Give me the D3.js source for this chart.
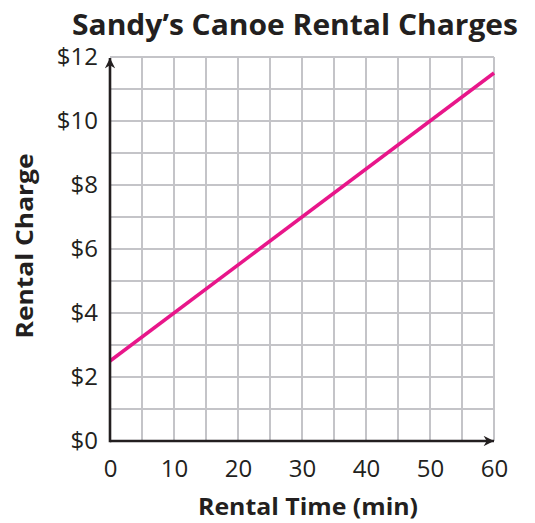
<!DOCTYPE html>
<html><head><meta charset="utf-8">
<script src="https://cdn.jsdelivr.net/npm/d3@7"></script>
<style>body{margin:0;background:#fff}</style>
</head><body>
<script>
const title = "Sandy’s Canoe Rental Charges";
const xTitle = "Rental Time (min)";
const yTitle = "Rental Charge";
const xTickValues = [0, 10, 20, 30, 40, 50, 60];
const yTickValues = [0, 2, 4, 6, 8, 10, 12];
const lineTimes = [0, 60];
const lineCharges = [2.5, 11.5];

const W = 535, H = 523;
const m = {left: 110, right: 41, top: 57, bottom: 82};
const svg = d3.select("body").append("svg").attr("width", W).attr("height", H);
const x = d3.scaleLinear().domain([0, 60]).range([m.left, W - m.right]);
const y = d3.scaleLinear().domain([0, 12]).range([H - m.bottom, m.top]);

const font = "'Open Sans', sans-serif";
const ink = "#231f20";

// grid
const g = svg.append("g");
g.selectAll(".vx").data(d3.range(5, 61, 5)).join("line")
  .attr("x1", d => x(d)).attr("x2", d => x(d)).attr("y1", y(0)).attr("y2", y(12))
  .attr("stroke", "#c4c4c8").attr("stroke-width", 2);
g.selectAll(".hy").data(d3.range(1, 13, 1)).join("line")
  .attr("x1", x(0)).attr("x2", x(60)).attr("y1", d => y(d)).attr("y2", d => y(d))
  .attr("stroke", "#c4c4c8").attr("stroke-width", 2);

// data line
const lineData = lineTimes.map((t, i) => [t, lineCharges[i]]);
svg.append("path").datum(lineData)
  .attr("d", d3.line().x(d => x(d[0])).y(d => y(d[1])))
  .attr("stroke", "#e8168a").attr("stroke-width", 3.5).attr("fill", "none");

// axes
const defs = svg.append("defs");
defs.append("marker").attr("id", "arr").attr("viewBox", "0 0 10 10")
  .attr("refX", 10).attr("refY", 5).attr("markerWidth", 5).attr("markerHeight", 4)
  .attr("markerUnits", "strokeWidth").attr("orient", "auto")
  .append("path").attr("d", "M0,0 L10,5 L0,10 L3,5 Z").attr("fill", ink);

svg.append("line").attr("x1", x(0)).attr("x2", x(60)).attr("y1", y(0)).attr("y2", y(0))
  .attr("stroke", ink).attr("stroke-width", 2.6).attr("marker-end", "url(#arr)");
svg.append("line").attr("x1", x(0)).attr("x2", x(0)).attr("y1", y(0) + 1.3).attr("y2", y(12) + 1)
  .attr("stroke", ink).attr("stroke-width", 2.6).attr("marker-end", "url(#arr)");

// tick labels via d3 axes
const xAxis = svg.append("g").attr("transform", `translate(0,${y(0)})`)
  .call(d3.axisBottom(x).tickValues(xTickValues).tickSize(0).tickPadding(19).tickFormat(d3.format("d")));
xAxis.select(".domain").remove();
xAxis.selectAll("text").attr("font-family", font).attr("font-size", 24).attr("fill", ink);

const yAxis = svg.append("g").attr("transform", `translate(${x(0)},0)`)
  .call(d3.axisLeft(y).tickValues(yTickValues).tickSize(0).tickPadding(12).tickFormat(d => "$" + d));
yAxis.select(".domain").remove();
yAxis.selectAll("text").attr("font-family", font).attr("font-size", 24).attr("fill", ink);

// titles
svg.append("text").attr("x", 295).attr("y", 35).attr("text-anchor", "middle")
  .attr("font-family", font).attr("font-weight", 700).attr("font-size", 29).attr("fill", ink)
  .attr("textLength", 446).attr("lengthAdjust", "spacingAndGlyphs")
  .text(title);
svg.append("text").attr("x", 308).attr("y", 515).attr("text-anchor", "middle")
  .attr("font-family", font).attr("font-weight", 700).attr("font-size", 24).attr("fill", ink)
  .attr("textLength", 220).attr("lengthAdjust", "spacingAndGlyphs")
  .text(xTitle);
svg.append("text").attr("transform", "translate(33,246) rotate(-90)").attr("text-anchor", "middle")
  .attr("font-family", font).attr("font-weight", 700).attr("font-size", 24).attr("fill", ink)
  .attr("textLength", 185).attr("lengthAdjust", "spacingAndGlyphs")
  .text(yTitle);
</script>
</body></html>
